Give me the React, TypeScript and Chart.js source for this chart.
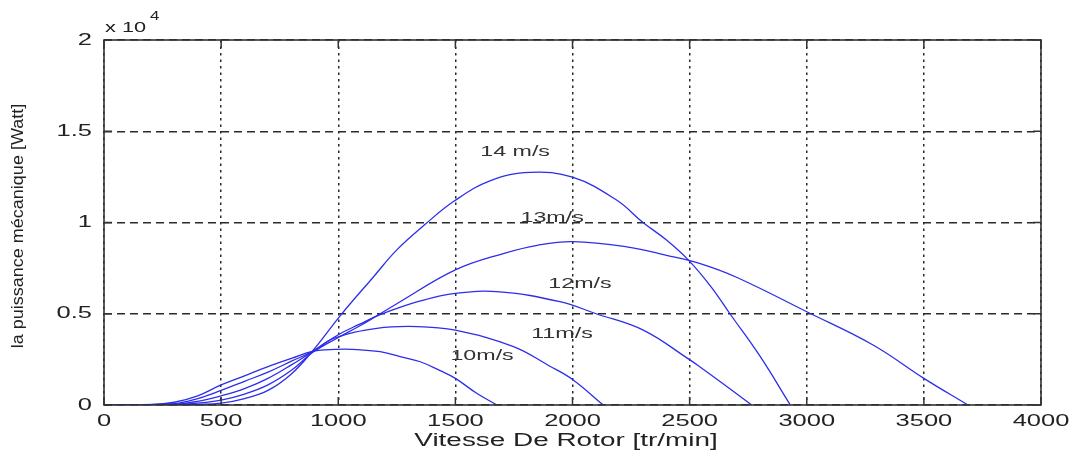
import React, { useEffect, useRef } from "react";
import { Chart, registerables } from "chart.js";

Chart.register(...registerables);

// Rotor speed [tr/min] and mechanical power [W] for each wind speed
const rpm10 = [0, 200, 300, 400, 500, 600, 700, 800, 893, 990, 1060, 1179, 1264, 1350, 1435, 1500, 1591, 1677];
const p10 = [0, 20, 150, 500, 1100, 1600, 2100, 2550, 2950, 3050, 3050, 2920, 2650, 2370, 1880, 1460, 640, 0];

const rpm11 = [0, 300, 400, 500, 600, 700, 800, 893, 980, 1165, 1335, 1500, 1748, 1900, 2000, 2131];
const p11 = [0, 80, 350, 800, 1300, 1800, 2400, 2950, 3650, 4200, 4300, 4100, 3200, 2150, 1400, 0];

const rpm12 = [0, 300, 400, 500, 600, 700, 800, 893, 1000, 1087, 1179, 1350, 1500, 1690, 1946, 2101, 2302, 2498, 2543, 2650, 2765];
const p12 = [0, 40, 200, 500, 900, 1460, 2200, 2950, 3850, 4400, 4950, 5700, 6120, 6200, 5660, 5000, 4100, 2500, 2100, 1100, 0];

const rpm13 = [0, 300, 400, 500, 600, 700, 800, 893, 1000, 1087, 1179, 1250, 1500, 1705, 1850, 2000, 2231, 2402, 2542, 2700, 3000, 3283, 3500, 3688];
const p13 = [0, 20, 100, 270, 600, 1100, 1900, 2900, 3700, 4300, 5000, 5550, 7400, 8300, 8750, 8950, 8670, 8200, 7760, 7000, 5110, 3290, 1460, 0];

const rpm14 = [0, 300, 400, 500, 600, 700, 800, 893, 1009, 1151, 1250, 1371, 1492, 1650, 1819, 2000, 2188, 2301, 2400, 2498, 2590, 2672, 2799, 2930];
const p14 = [0, 0, 30, 100, 350, 800, 1700, 3000, 4900, 7030, 8500, 9900, 11150, 12300, 12750, 12480, 11230, 10000, 9050, 7900, 6500, 5000, 2700, 0];

const seriesRpm = [rpm10, rpm11, rpm12, rpm13, rpm14];
const seriesPower = [p10, p11, p12, p13, p14];

// Curve annotations and where they sit (data coordinates)
const curveLabels = ["10m/s", "11m/s", "12m/s", "13m/s", "14 m/s"];
const labelRpm = [1614, 1955, 2032, 1913, 1755];
const labelPower = [2680, 3890, 6630, 10250, 13860];

// Axis settings
const xMin = 0;
const xMax = 4000;
const xStep = 500;
const yMin = 0;
const yMax = 20000;
const yStep = 5000;
const yExponentBase = "x 10";
const yExponent = "4";
const xTitle = "Vitesse De Rotor [tr/min]";
const yTitle = "la puissance mécanique [Watt]";

const FONT = "'Liberation Sans', Arial, sans-serif";
const SX = 1.5;

function drawText(
  ctx: CanvasRenderingContext2D,
  text: string,
  x: number,
  y: number,
  size: number,
  align: CanvasTextAlign,
  baseline: CanvasTextBaseline,
  sx: number,
  color: string
) {
  ctx.save();
  ctx.translate(x, y);
  ctx.scale(sx, 1);
  ctx.font = `${size}px ${FONT}`;
  ctx.textAlign = align;
  ctx.textBaseline = baseline;
  ctx.fillStyle = color;
  ctx.fillText(text, 0, 0);
  ctx.restore();
}

const decorPlugin = {
  id: "decor",
  afterDraw(chart: any) {
    const ctx: CanvasRenderingContext2D = chart.ctx;
    const area = chart.chartArea;
    const xs = chart.scales.x;
    const ys = chart.scales.y;
    const textColor = "#222";

    // box + inward ticks
    ctx.save();
    ctx.strokeStyle = "#333";
    ctx.lineWidth = 1.6;
    ctx.setLineDash([]);
    ctx.strokeRect(area.left, area.top, area.right - area.left, area.bottom - area.top);
    ctx.lineWidth = 1.5;
    xs.ticks.forEach((t: any) => {
      const px = xs.getPixelForValue(t.value);
      ctx.beginPath();
      ctx.moveTo(px, area.bottom);
      ctx.lineTo(px, area.bottom - 8);
      ctx.moveTo(px, area.top);
      ctx.lineTo(px, area.top + 8);
      ctx.stroke();
    });
    ys.ticks.forEach((t: any) => {
      const py = ys.getPixelForValue(t.value);
      ctx.beginPath();
      ctx.moveTo(area.left, py);
      ctx.lineTo(area.left + 8, py);
      ctx.moveTo(area.right, py);
      ctx.lineTo(area.right - 8, py);
      ctx.stroke();
    });
    ctx.restore();

    // tick labels
    xs.ticks.forEach((t: any) => {
      const px = xs.getPixelForValue(t.value);
      drawText(ctx, String(t.value), px, area.bottom + 8, 17, "center", "top", SX, textColor);
    });
    ys.ticks.forEach((t: any) => {
      const py = ys.getPixelForValue(t.value);
      drawText(ctx, String(t.value / 10000), area.left - 12, py, 17, "right", "middle", SX, textColor);
    });

    // exponent
    drawText(ctx, yExponentBase, area.left + 1, area.top - 8, 15, "left", "alphabetic", 1.45, textColor);
    drawText(ctx, yExponent, area.left + 46, area.top - 20, 13, "left", "alphabetic", 1.3, textColor);

    // axis titles
    drawText(ctx, xTitle, 566, 441, 18, "center", "middle", 1.55, textColor);
    ctx.save();
    ctx.translate(18, 226);
    ctx.rotate(-Math.PI / 2);
    ctx.scale(1, 0.95);
    ctx.font = `18px ${FONT}`;
    ctx.textAlign = "center";
    ctx.textBaseline = "middle";
    ctx.fillStyle = textColor;
    ctx.fillText(yTitle, 0, 0);
    ctx.restore();

    // curve labels
    curveLabels.forEach((lab, i) => {
      const px = xs.getPixelForValue(labelRpm[i]);
      const py = ys.getPixelForValue(labelPower[i]);
      drawText(ctx, lab, px, py, 15, "center", "middle", 1.55, "#333");
    });
  },
};

export default function App() {
  const canvasRef = useRef<HTMLCanvasElement | null>(null);

  useEffect(() => {
    if (!canvasRef.current) return;
    const datasets = seriesRpm.map((xsArr, i) => ({
      label: curveLabels[i],
      data: xsArr.map((x, j) => ({ x, y: seriesPower[i][j] })),
      borderColor: "rgb(45,45,235)",
      borderWidth: 1.3,
      pointRadius: 0,
      fill: false,
      tension: 0.4,
    }));

    const chart = new Chart(canvasRef.current, {
      type: "line",
      data: { datasets },
      plugins: [decorPlugin],
      options: {
        animation: false,
        responsive: false,
        layout: { padding: { left: 104, right: 31, top: 40, bottom: 47 } },
        plugins: {
          legend: { display: false },
          tooltip: { enabled: false },
          title: { display: false },
        },
        scales: {
          x: {
            type: "linear",
            min: xMin,
            max: xMax,
            ticks: { stepSize: xStep, display: false },
            grid: { color: "#2a2a2a", lineWidth: 1.5, drawTicks: false, tickLength: 0 },
            border: { display: false, dash: [2.5, 4] },
            afterFit: (s: any) => {
              s.height = 0;
            },
          },
          y: {
            type: "linear",
            min: yMin,
            max: yMax,
            ticks: { stepSize: yStep, display: false },
            grid: { color: "#2a2a2a", lineWidth: 1.4, drawTicks: false, tickLength: 0 },
            border: { display: false, dash: [8, 5] },
            afterFit: (s: any) => {
              s.width = 0;
            },
          },
        },
      },
    });
    return () => chart.destroy();
  }, []);

  return (
    <div style={{ position: "absolute", left: 0, top: 0, width: 1072, height: 452, background: "#fff" }}>
      <canvas ref={canvasRef} width={1072} height={452} style={{ display: "block" }} />
    </div>
  );
}
